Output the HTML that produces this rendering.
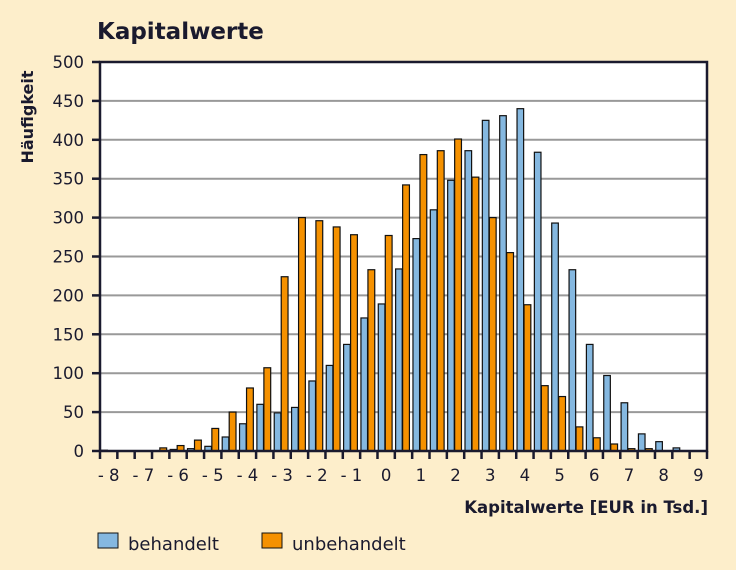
<!DOCTYPE html>
<html><head><meta charset="utf-8"><style>
body{margin:0;background:#fdeecb;}
svg{display:block;font-family:"DejaVu Sans","Liberation Sans",sans-serif;}
</style></head><body>
<svg id="s" width="736" height="570" viewBox="0 0 736 570" xmlns="http://www.w3.org/2000/svg">
<rect width="736" height="570" fill="#fdeecb"/>
<text x="97" y="39" font-size="23" font-weight="bold" fill="#1a1a2e">Kapitalwerte</text>
<text transform="translate(33,117) rotate(-90)" text-anchor="middle" font-size="16" font-weight="bold" fill="#1a1a2e">Häufigkeit</text>
<rect x="100" y="62" width="607" height="389" fill="#fff"/>
<g id="grid" stroke="#999" stroke-width="2"></g>
<g id="bars" stroke="#111" stroke-width="1.2"></g>
<g id="ax" fill="none" stroke="#1a1a2e" stroke-width="2.5"></g>
<g id="lab" font-size="16.5" fill="#1a1a2e"></g>
<text x="708" y="513" text-anchor="end" font-size="16.5" font-weight="bold" fill="#1a1a2e">Kapitalwerte [EUR in Tsd.]</text>
<rect x="98" y="533" width="20" height="15" fill="#85b8e0" stroke="#111"/>
<text x="128" y="550" font-size="18" fill="#1a1a2e">behandelt</text>
<rect x="262" y="533" width="20" height="15" fill="#f59100" stroke="#111"/>
<text x="292" y="550" font-size="18" fill="#1a1a2e">unbehandelt</text>
</svg>
<script>
var NS="http://www.w3.org/2000/svg";
function el(p,t,a,txt){var e=document.createElementNS(NS,t);for(var k in a)e.setAttribute(k,a[k]);if(txt!=null)e.textContent=txt;document.getElementById(p).appendChild(e);}
var X0=100,W=607,Y0=451,S=389/500,sw=W/35;
var b=[1,0,0,0,2,3,6,18,35,60,49,56,90,110,137,171,189,234,273,310,348,386,425,431,440,384,293,233,137,97,62,22,12,4,0];
var o=[0,0,0,4,7,14,29,50,81,107,224,300,296,288,278,233,277,342,381,386,401,352,300,255,188,84,70,31,17,9,3,3,0,0,0];
for(var v=50;v<=450;v+=50){var y=Y0-v*S;el("grid","line",{x1:X0,x2:X0+W,y1:y,y2:y});}
for(var v=0;v<=500;v+=50){var y=Y0-v*S;el("ax","line",{x1:92,x2:X0,y1:y,y2:y});el("lab","text",{x:84,y:y+6,"text-anchor":"end"},v);}
for(var i=0;i<35;i++){var x=X0+i*sw;
 if(b[i]>0)el("bars","rect",{x:x+0.8,y:Y0-b[i]*S,width:6.6,height:b[i]*S,fill:"#85b8e0"});
 if(o[i]>0)el("bars","rect",{x:x+7.8,y:Y0-o[i]*S,width:6.8,height:o[i]*S,fill:"#f59100"});
}
for(var i=0;i<=35;i++){var x=X0+i*sw;el("ax","line",{x1:x,x2:x,y1:Y0,y2:Y0+8});}
for(var k=-8;k<=9;k++){var x=X0+sw/2+(k+8)*2*sw;el("lab","text",{x:x,y:481,"text-anchor":"middle"},(k<0?"- "+(-k):k));}
el("ax","path",{d:"M"+X0+" "+Y0+"V62H"+(X0+W)+"V"+Y0+"H"+X0});
</script>
</body></html>
